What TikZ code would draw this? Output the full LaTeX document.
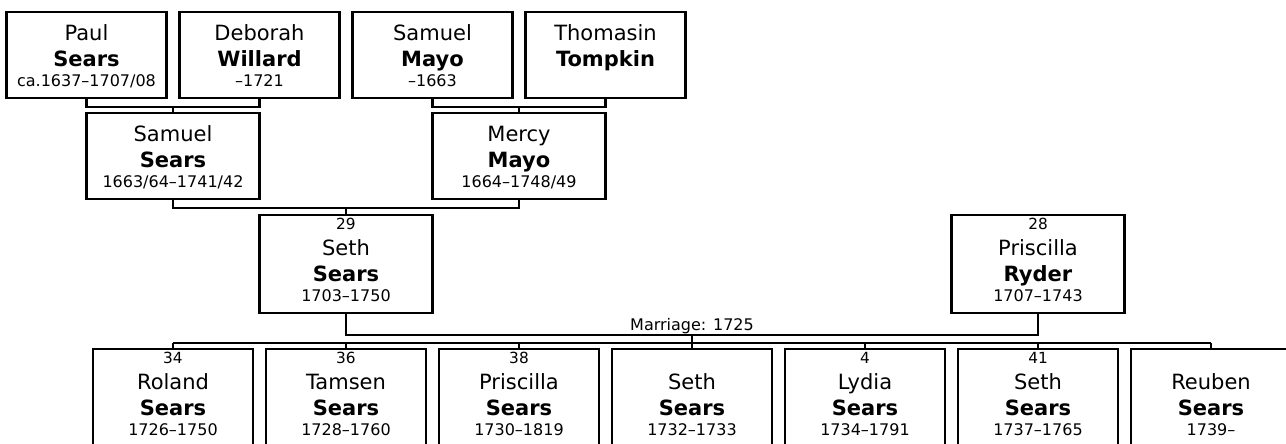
\documentclass[tikz,border=0pt]{standalone}
\usepackage{fontspec}
\setmainfont{DejaVu Sans}
\usetikzlibrary{calc}

% #1 node, #2 x, #3 top, #4 width, #5 baseline of given name, #6 number, #7 given name, #8 surname, #9 dates
\newcommand\person[9]{%
  \node[persbox, minimum width=#4*0.75pt, minimum height={(#5+57)*0.75pt}, anchor=north] (#1) at (#2,#3) {};
  \path (#2,#3+#5-26) node[numtext] (#1-n) {#6}
        (#2,#3+#5) node[giventext] (#1-g) {#7}
        (#2,#3+#5+26) node[surtext] (#1-s) {#8}
        (#2,#3+#5+46) node[datetext] (#1-d) {#9};
}

\begin{document}
\begin{tikzpicture}[x=0.75pt, y=-0.75pt, line width=1.7pt,
  persbox/.style={draw, line width=1.7pt, inner sep=0pt},
  txt/.style={anchor=base, inner sep=0pt},
  numtext/.style={txt, font=\fontsize{11.5}{13}\selectfont},
  giventext/.style={txt, font=\fontsize{15.75}{18}\selectfont},
  surtext/.style={txt, font=\fontsize{15.75}{18}\selectfont\bfseries},
  datetext/.style={txt, font=\fontsize{12}{14}\selectfont}]
  \useasboundingbox (0,0) rectangle (1286,443);
  \clip (0,0) rectangle (1286,443);

  % grandparents
  \person{paul}{86.5}{11}{160}{29}{}{Paul}{Sears}{ca.1637–1707/08}
  \person{deborah}{259.5}{11}{160}{29}{}{Deborah}{Willard}{–1721}
  \person{mayo}{432.5}{11}{160}{29}{}{Samuel}{Mayo}{–1663}
  \person{tompkin}{605.5}{11}{160}{29}{}{Thomasin}{Tompkin}{}
  % parents
  \person{samuel}{173}{112}{173}{29}{}{Samuel}{Sears}{1663/64–1741/42}
  \person{mercy}{519}{112}{173}{29}{}{Mercy}{Mayo}{1664–1748/49}
  % couple
  \person{seth}{346}{214}{173}{41}{29}{Seth}{Sears}{1703–1750}
  \person{priscilla}{1038}{214}{173}{41}{28}{Priscilla}{Ryder}{1707–1743}
  % children
  \foreach \i/\n/\f/\d in {1/34/Roland/1726–1750, 2/36/Tamsen/1728–1760,
      3/38/Priscilla/1730–1819, 4//Seth/1732–1733, 5/4/Lydia/1734–1791,
      6/41/Seth/1737–1765, 7//Reuben/1739–} {
    \person{c\i}{173*\i}{348}{160}{41}{\n}{\f}{Sears}{\d}
  }

  \draw (paul.south) -- ++(0,8) coordinate (pd) -| (deborah.south);
  \draw (pd -| samuel.north) -- (samuel.north);
  \draw (mayo.south) -- ++(0,8) coordinate (mt) -| (tompkin.south);
  \draw (mt -| mercy.north) -- (mercy.north);
  \draw (samuel.south) -- ++(0,8) coordinate (sm) -| (mercy.south);
  \draw (sm -| seth.north) -- (seth.north);

  \draw (seth.south) -- ++(0,21) -| (priscilla.south)
    coordinate[pos=.25] (wed)
    node[pos=.25, anchor=base, inner sep=0pt, yshift=3.5pt, font=\fontsize{12}{14}\selectfont] (marr) {Marriage: 1725};
  \draw (wed) -- ++(0,8) coordinate (kids);
  \draw (kids -| c1.north) -- (kids -| c7.north);
  \foreach \i in {1,...,7}
    \draw (kids -| c\i.north) -- (c\i.north);
\end{tikzpicture}
\end{document}
